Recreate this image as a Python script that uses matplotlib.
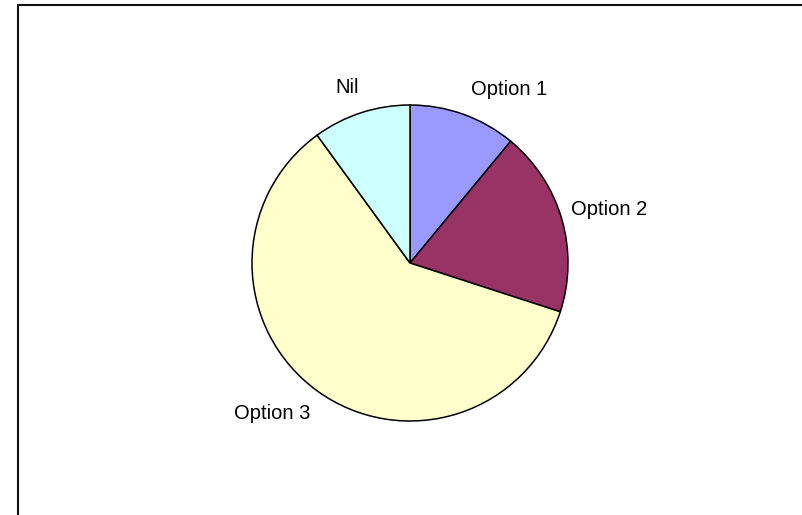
import matplotlib
matplotlib.use("Agg")
import matplotlib.pyplot as plt
from matplotlib.patches import Rectangle

labels = ["Option 1", "Option 2", "Option 3", "Nil"]
values = [11, 19, 60, 10]
colors = ["#9999FF", "#993366", "#FFFFCC", "#CCFFFF"]

# label spots around the pie (unit radius)
label_pos = [(0.63, 1.10), (1.26, 0.34), (-0.87, -0.95), (-0.40, 1.11)]

plt.rcParams["font.family"] = ["Liberation Sans", "DejaVu Sans"]

W, H = 803, 515
fig = plt.figure(figsize=(W / 100, H / 100), dpi=100)

cx, cy, r = 410, 263, 158
ax = fig.add_axes([(cx - r) / W, (H - cy - r) / H, 2 * r / W, 2 * r / H])

wedges, texts = ax.pie(values, labels=labels, colors=colors, startangle=90,
                       counterclock=False, radius=1.0,
                       wedgeprops={"edgecolor": "black", "linewidth": 1.1},
                       textprops={"fontsize": 14.5})
for t, (x, y) in zip(texts, label_pos):
    t.set_position((x, y))
    t.set_ha("center")
    t.set_va("center")

ax.set_xlim(-1, 1)
ax.set_ylim(-1, 1)
ax.set_aspect("auto")

# chart area frame
fig.patches.append(Rectangle((18 / W, -0.1), 2, (H - 5) / H + 0.1,
                             transform=fig.transFigure, fill=False,
                             edgecolor="#111111", linewidth=1.5))

fig.savefig("out.png", dpi=100)
